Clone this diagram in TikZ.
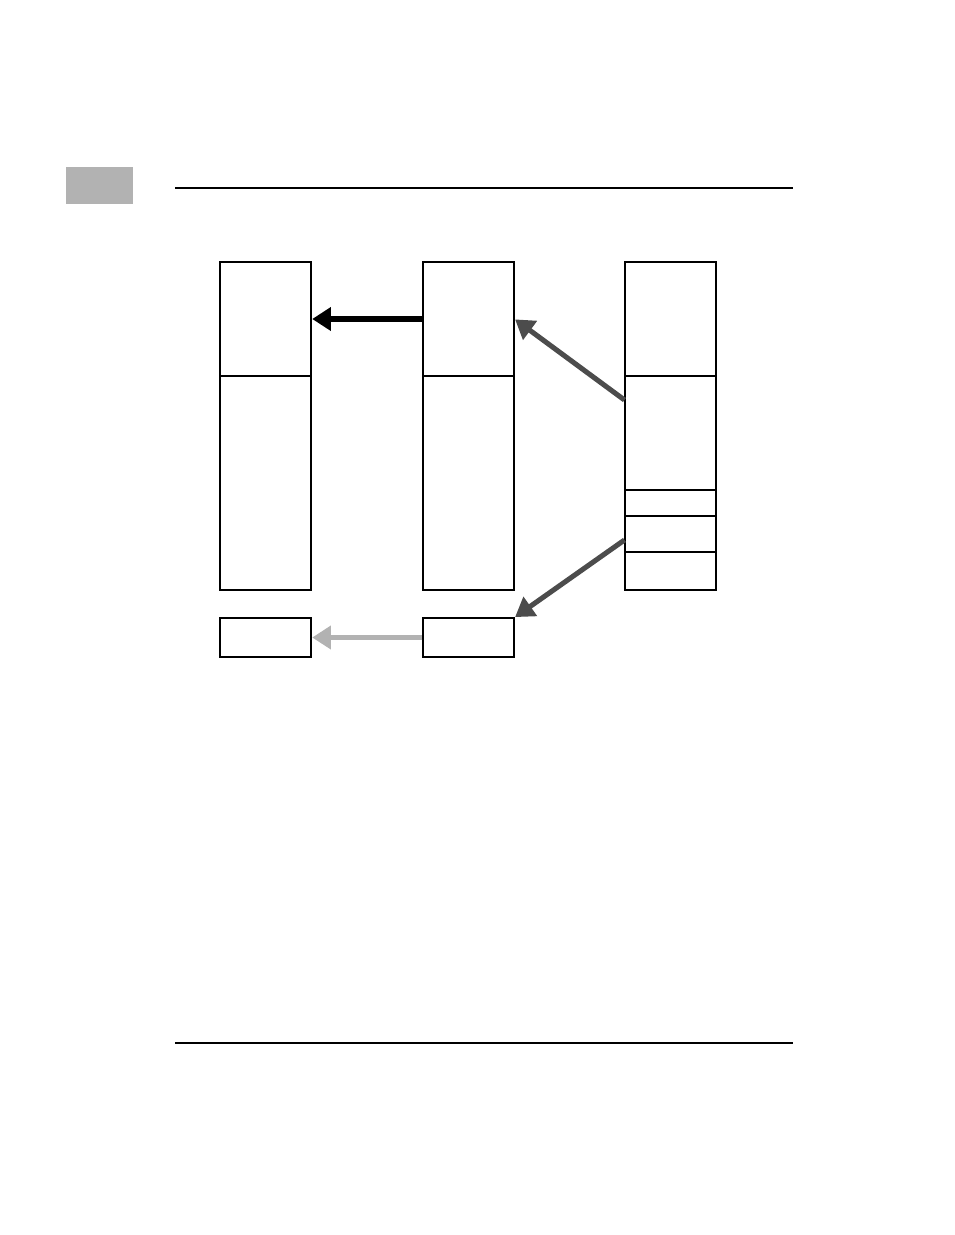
\documentclass[tikz,border=0pt]{standalone}
\usetikzlibrary{arrows.meta, positioning}

\begin{document}
\begin{tikzpicture}[x=0.75pt, y=-0.75pt, >={Triangle[length=14pt,width=17pt]},
  box/.style={draw, line width=0.8pt, inner sep=0pt, minimum width=68.25pt},
  link/.style={->, line width=3.8pt, shorten >=0.5pt}]

\useasboundingbox (0,0) rectangle (954,1235);

% page decoration
\node[fill=black!30, inner sep=0pt, minimum width=50.25pt, minimum height=27.75pt] (tab) at (99.5,185.5) {};
\draw[line width=0.9pt] (175,188) -- (793,188);
\draw[line width=0.9pt] (175,1043) -- (793,1043);

% Left column
\node[box, minimum height=85.5pt] (l1) at (265.5,319) {};
\node[box, minimum height=160.5pt] (l2) at (265.5,483) {};
\node[box, minimum height=29.25pt] (ls) at (265.5,637.5) {};

% Middle column
\node[box, minimum height=85.5pt] (m1) at (468.5,319) {};
\node[box, minimum height=160.5pt] (m2) at (468.5,483) {};
\node[box, minimum height=29.25pt] (ms) at (468.5,637.5) {};

% Right column
\node[box, minimum height=85.5pt] (r1) at (670.5,319) {};
\node[box, minimum height=85.5pt] (r2) at (670.5,433) {};
\node[box, minimum height=19.5pt] (r3) at (670.5,503) {};
\node[box, minimum height=27pt] (r4) at (670.5,534) {};
\node[box, minimum height=28.5pt] (r5) at (670.5,571) {};

\draw[link, black] (m1) -- (l1);
\draw[link, black!70] ([yshift=24.75pt]r2.west) -- (m1.east);
\draw[link, black!70] ([yshift=-4.5pt]r4.west) -- (ms.north east);
\draw[link, black!30] (ms) -- (ls);

\end{tikzpicture}
\end{document}
